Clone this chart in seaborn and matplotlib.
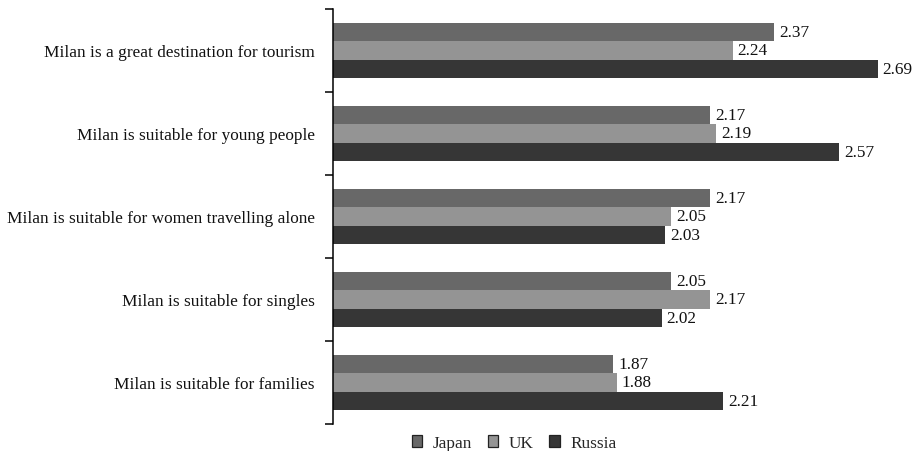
import matplotlib
matplotlib.use("Agg")
import matplotlib.pyplot as plt
import seaborn as sns
import pandas as pd
from matplotlib.ticker import FixedLocator

statements = [
    "Milan is a great destination for tourism",
    "Milan is suitable for young people",
    "Milan is suitable for women travelling alone",
    "Milan is suitable for singles",
    "Milan is suitable for families",
]
countries = ["Japan", "UK", "Russia"]
japan = [2.37, 2.17, 2.17, 2.05, 1.87]
uk = [2.24, 2.19, 2.05, 2.17, 1.88]
russia = [2.69, 2.57, 2.03, 2.02, 2.21]
colors = ["#686868", "#949494", "#363636"]

rows = []
for country, vals in zip(countries, [japan, uk, russia]):
    for s, v in zip(statements, vals):
        rows.append({"statement": s, "country": country, "score": v})
df = pd.DataFrame(rows)

sns.set_theme(style="white")
plt.rcParams["font.family"] = ["Liberation Serif", "DejaVu Serif"]
plt.rcParams["font.size"] = 12.4

fig = plt.figure(figsize=(9.23, 4.52), dpi=100)
ax = fig.add_axes([333 / 923, 1 - 425 / 452, 580 / 923, 415 / 452])

sns.barplot(
    data=df, y="statement", x="score", hue="country", orient="h",
    order=statements, hue_order=countries, palette=colors,
    width=0.66, gap=0, saturation=1, linewidth=0, errorbar=None, ax=ax,
)

for cont in ax.containers:
    ax.bar_label(cont, fmt="%.2f", padding=3.6, fontsize=12.4, color="#111111")

ax.set_xlim(1.0, 2.8)
ax.set_ylim(len(statements) - 0.5, -0.5)
ax.set_xlabel("")
ax.set_ylabel("")
ax.set_xticks([])

for side in ["top", "right", "bottom"]:
    ax.spines[side].set_visible(False)
ax.spines["left"].set_color("black")
ax.spines["left"].set_linewidth(1.1)

ax.tick_params(axis="y", which="major", length=0, pad=13, labelsize=12.4,
               labelcolor="#111111")
ax.yaxis.set_minor_locator(FixedLocator([i - 0.5 for i in range(len(statements) + 1)]))
ax.tick_params(axis="y", which="minor", length=5.5, width=1.1, color="black",
               direction="out", left=True)

handles, labels = ax.get_legend_handles_labels()
ax.get_legend().remove()
for h in handles:
    h.set_edgecolor("#222222")
    h.set_linewidth(0.9)
fig.legend(handles, labels, loc="center", bbox_to_anchor=(514 / 923, 1 - 444 / 452),
           ncol=3, frameon=False, fontsize=12.4, handlelength=0.62,
           handleheight=0.62, handletextpad=0.6, columnspacing=0.9,
           borderaxespad=0, borderpad=0)

fig.savefig("out.png", dpi=100)
